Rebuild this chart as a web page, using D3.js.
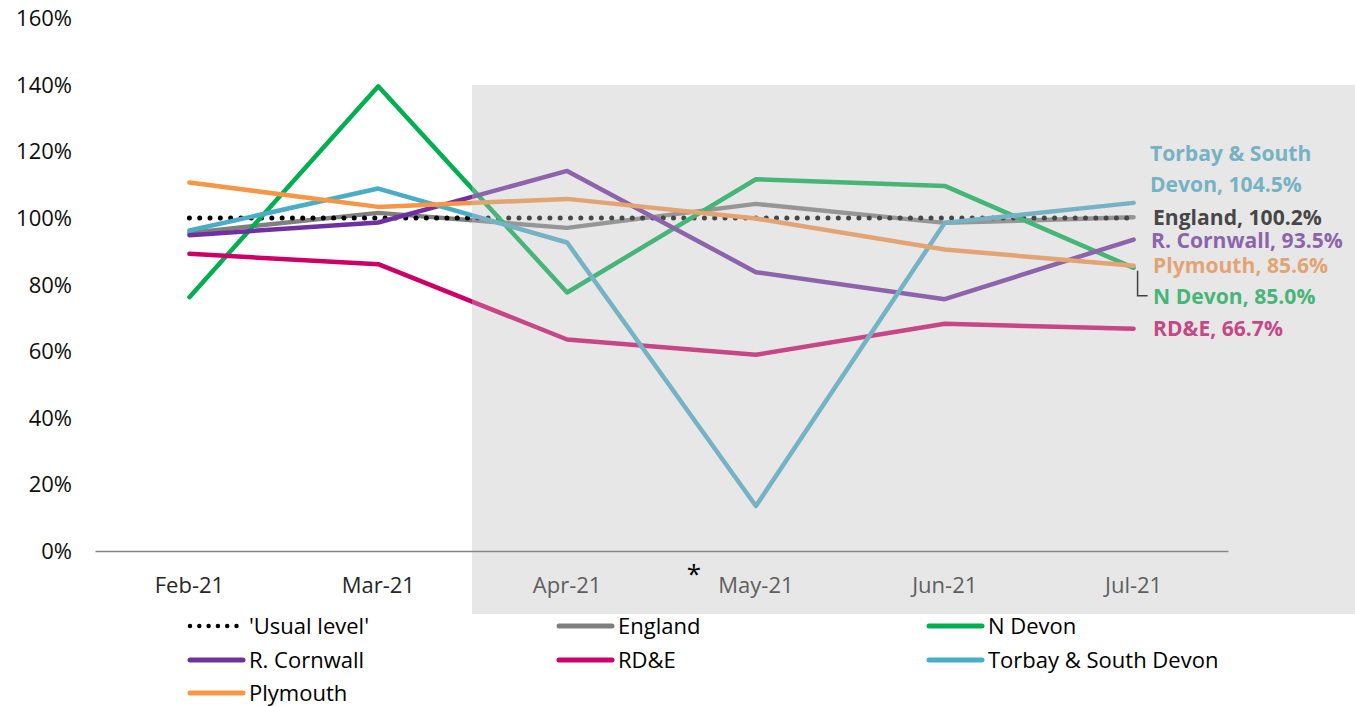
<!DOCTYPE html>
<html><head><meta charset="utf-8">
<script src="https://cdn.jsdelivr.net/npm/d3@7"></script>
<style>body{margin:0;background:#fff;} svg{display:block;}</style>
</head><body><svg id="c" width="1355" height="706"></svg>
<script>
// ---- data ----
const months = ["Feb-21","Mar-21","Apr-21","May-21","Jun-21","Jul-21"];
const usualLevel = [100, 100, 100, 100, 100, 100];
const england    = [95.5, 101.5, 97, 104.2, 98.5, 100.2];
const nDevon     = [76.2, 139.5, 77.6, 111.6, 109.6, 85.0];
const rCornwall  = [94.8, 98.6, 114.1, 83.7, 75.6, 93.5];
const rde        = [89.2, 86.1, 63.5, 58.9, 68.2, 66.7];
const torbay     = [96.2, 108.8, 92.6, 13.5, 98.5, 104.5];
const plymouth   = [110.6, 103.3, 105.7, 99.8, 90.5, 85.6];
const yTicks     = [0, 20, 40, 60, 80, 100, 120, 140, 160];
const seriesNames  = ["'Usual level'", "England", "N Devon", "R. Cornwall", "RD&E", "Torbay & South Devon", "Plymouth"];
const seriesColors = ["#000000", "#7f7f7f", "#00b050", "#7030a0", "#cc0066", "#4bacc6", "#f79646"];
const endLabels = [
  {s: 5, lines: ["Torbay & South", "Devon, 104.5%"]},
  {s: 1, lines: ["England, 100.2%"]},
  {s: 3, lines: ["R. Cornwall, 93.5%"]},
  {s: 6, lines: ["Plymouth, 85.6%"]},
  {s: 2, lines: ["N Devon, 85.0%"]},
  {s: 4, lines: ["RD&E, 66.7%"]}
];

const allSeries = [usualLevel, england, nDevon, rCornwall, rde, torbay, plymouth];
const FONT = "'Open Sans', 'Noto Sans', sans-serif";
const svg = d3.select("#c");

const x = d3.scaleBand().domain(months).range([95, 1228]);
const xc = m => x(m) + x.bandwidth() / 2;
const y = d3.scaleLinear().domain([0, 160]).range([551, 18]);

function txt(g, px, py, s, o) {
  return g.append("text")
    .attr("transform", `translate(${px},${py}) scale(${o.sx || 1},1)`)
    .attr("text-anchor", o.anchor || "start")
    .attr("font-family", FONT)
    .attr("font-size", o.size)
    .attr("font-weight", o.weight || "normal")
    .attr("fill", o.fill || "#000")
    .text(s);
}

// y tick labels
const gy = svg.append("g");
yTicks.forEach(t => txt(gy, 72, y(t) + 8, t + "%", {size: 22, anchor: "end", fill: "#0d0d0d"}));

// x tick labels
const gx = svg.append("g");
months.forEach(m => txt(gx, xc(m), 593, m, {size: 22, anchor: "middle", fill: "#262626"}));

// lines
const line = d3.line().x((v, i) => xc(months[i])).y(v => y(v));
const order = [1, 0, 2, 3, 4, 5, 6];
const gl = svg.append("g");
order.forEach(si => {
  const p = gl.append("path").datum(allSeries[si])
    .attr("d", line).attr("fill", "none")
    .attr("stroke", seriesColors[si])
    .attr("stroke-linejoin", "round").attr("stroke-linecap", "round");
  if (si === 0) p.attr("stroke-width", 5).attr("stroke-dasharray", "0,10.3");
  else p.attr("stroke-width", 4.5);
});

// end labels
const gt = svg.append("g");
const labelPos = [[1150, 161], [1153, 225], [1151, 248], [1153, 273], [1153, 304], [1153, 336]];
endLabels.forEach((l, i) => {
  const col = l.s === 1 ? "#000" : seriesColors[l.s];
  l.lines.forEach((s, j) => txt(gt, labelPos[i][0], labelPos[i][1] + j * 31, s, {size: 20.5, weight: "bold", sx: 1.03, fill: col}));
});

// shaded overlay
svg.append("rect").attr("x", 472).attr("y", 85).attr("width", 883).attr("height", 529)
  .attr("fill", "rgb(190,190,190)").attr("fill-opacity", 0.37);

// leader line for N Devon label
const lx = xc("Jul-21") + 4, ly = y(nDevon[5]);
svg.append("path").attr("d", `M${lx},${ly + 3}V${ly + 28}H${lx + 10}`)
  .attr("fill", "none").attr("stroke", "#404040").attr("stroke-width", 1.5);

// x axis line
svg.append("g").attr("transform", `translate(0,${y(0)})`)
  .call(d3.axisBottom(x).tickSize(0).tickSizeOuter(0).tickFormat(""))
  .call(g => g.select(".domain").attr("stroke", "#868686").attr("stroke-width", 1.5));

// asterisk
txt(svg, 694, 583, "*", {size: 26, anchor: "middle", fill: "#000"});

// legend
const gleg = svg.append("g");
const colX = [188, 557, 927], rowY = [626, 660, 693];
seriesNames.forEach((n, i) => {
  const cx = colX[i % 3], cy = rowY[Math.floor(i / 3)];
  const ln = gleg.append("line").attr("x1", cx + 2).attr("x2", cx + 55).attr("y1", cy).attr("y2", cy)
    .attr("stroke", seriesColors[i]).attr("stroke-linecap", "round");
  if (i === 0) ln.attr("stroke-width", 4.5).attr("stroke-dasharray", "0,9.3");
  else ln.attr("stroke-width", 5);
  txt(gleg, cx + 61, cy + 8, n, {size: 22, fill: "#000"});
});
</script></body></html>
